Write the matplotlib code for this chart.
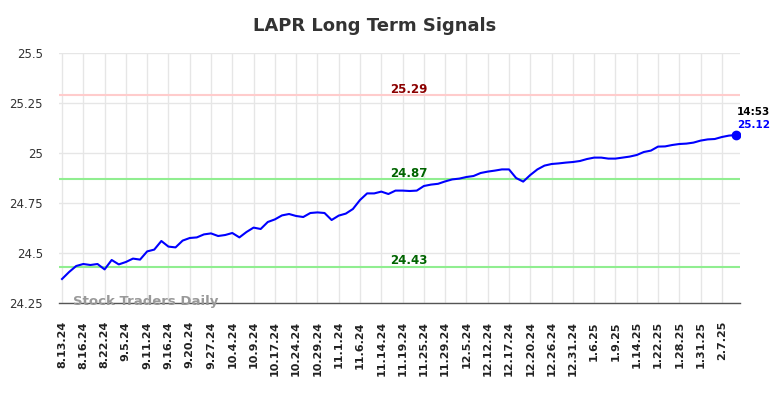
import numpy as np
import matplotlib
matplotlib.use("Agg")
import matplotlib.pyplot as plt

# data
prices = [
    24.37, 24.405, 24.435, 24.445, 24.44, 24.445, 24.418, 24.465, 24.443, 24.455,
    24.472, 24.467, 24.508, 24.517, 24.56, 24.532, 24.528, 24.562, 24.575, 24.578,
    24.593, 24.598, 24.585, 24.59, 24.60, 24.578, 24.605, 24.627, 24.62, 24.655,
    24.668, 24.688, 24.695, 24.685, 24.68, 24.70, 24.703, 24.70, 24.665, 24.687,
    24.697, 24.72, 24.765, 24.798, 24.798, 24.807, 24.795, 24.812, 24.812, 24.81,
    24.812, 24.835, 24.842, 24.846, 24.858, 24.868, 24.872, 24.88, 24.885, 24.90,
    24.907, 24.912, 24.918, 24.918, 24.875, 24.857, 24.89, 24.918, 24.937, 24.945,
    24.948, 24.952, 24.955, 24.96, 24.97, 24.977, 24.977, 24.972, 24.972, 24.977,
    24.982, 24.99, 25.005, 25.012, 25.032, 25.033, 25.04, 25.045, 25.047, 25.052,
    25.062, 25.068, 25.07, 25.08, 25.087, 25.09,
]
tick_labels = [
    "8.13.24", "8.16.24", "8.22.24", "9.5.24", "9.11.24", "9.16.24", "9.20.24",
    "9.27.24", "10.4.24", "10.9.24", "10.17.24", "10.24.24", "10.29.24", "11.1.24",
    "11.6.24", "11.14.24", "11.19.24", "11.25.24", "11.29.24", "12.5.24", "12.12.24",
    "12.17.24", "12.20.24", "12.26.24", "12.31.24", "1.6.25", "1.9.25", "1.14.25",
    "1.22.25", "1.28.25", "1.31.25", "2.7.25",
]
resistance = 25.29
supports = [24.87, 24.43]
last_time = "14:53"
last_label = "25.12"

x = np.arange(len(prices))

fig = plt.figure(figsize=(7.84, 3.98), dpi=100)
ax = fig.add_axes([0.0753, 0.2387, 0.8686, 0.6281])

ax.plot(x, prices, color="blue", lw=1.5, zorder=3)
ax.plot(x[-1], prices[-1], "o", color="blue", ms=6, zorder=4)

ax.axhline(resistance, color="#ffcccc", lw=1.5, zorder=2)
for s in supports:
    ax.axhline(s, color="#90ee90", lw=1.5, zorder=2)

mid = 48.9
ax.annotate(f"{resistance:.2f}", (mid, resistance), xytext=(0, 1.8), textcoords="offset points",
            ha="center", va="baseline", color="#8b0000", fontsize=8.5, fontweight="bold")
for s in supports:
    ax.annotate(f"{s:.2f}", (mid, s), xytext=(0, 1.8), textcoords="offset points",
                ha="center", va="baseline", color="#006400", fontsize=8.5, fontweight="bold")

ax.annotate(last_label, (x[-1], prices[-1]), xytext=(0.7, 4.8), textcoords="offset points",
            ha="left", va="baseline", color="blue", fontsize=7.5, fontweight="bold")
ax.annotate(last_time, (x[-1], prices[-1]), xytext=(0.7, 14.2), textcoords="offset points",
            ha="left", va="baseline", color="black", fontsize=7.5, fontweight="bold")

ax.text(0.0206, 0.004, "Stock Traders Daily", transform=ax.transAxes, ha="left", va="center",
        color="#999999", fontsize=9.5, fontweight="bold", zorder=5)

ax.set_xlim(-0.42, len(prices) - 1 + 0.56)
ax.set_ylim(24.25, 25.5)
ax.set_yticks([24.25, 24.5, 24.75, 25, 25.25, 25.5])
ax.set_yticklabels(["24.25", "24.5", "24.75", "25", "25.25", "25.5"])
ax.set_xticks(x[::3])
ax.set_xticklabels(tick_labels, rotation=90, fontsize=8, fontweight="bold", color="#222222")
ax.tick_params(axis="x", length=0, pad=13)
ax.tick_params(axis="y", length=0, pad=11.5, labelsize=8.5, labelcolor="#333333")

ax.grid(True, color="#e6e6e6", lw=1)
ax.set_axisbelow(True)
for side in ["top", "right", "left"]:
    ax.spines[side].set_visible(False)
ax.spines["bottom"].set_color("#555555")
ax.spines["bottom"].set_linewidth(1)

fig.text(0.478, 0.935, "LAPR Long Term Signals", ha="center", va="center",
         fontsize=13, fontweight="bold", color="#333333")

fig.savefig("out.png", dpi=100)
